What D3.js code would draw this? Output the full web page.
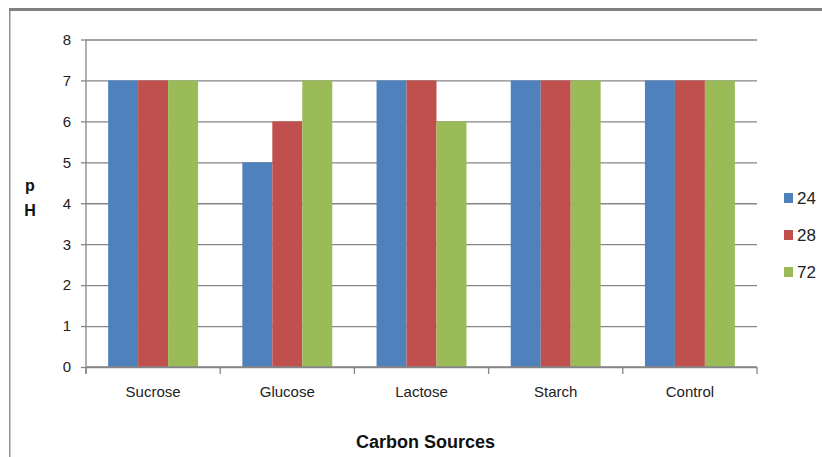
<!DOCTYPE html>
<html>
<head>
<meta charset="utf-8">
<script src="https://cdn.jsdelivr.net/npm/d3@7"></script>
<style>
  html, body { margin: 0; padding: 0; background: #fff; }
  svg { display: block; }
  text { font-family: "Liberation Sans", Arial, sans-serif; }
</style>
</head>
<body>
<svg id="chart" width="822" height="457"></svg>
<script>
// pH of cultures grown on different carbon sources, sampled at three times
const categories = ["Sucrose", "Glucose", "Lactose", "Starch", "Control"];
const seriesNames = ["24", "28", "72"];
const values24 = [7, 5, 7, 7, 7];
const values28 = [7, 6, 7, 7, 7];
const values72 = [7, 7, 6, 7, 7];
const yTicks = [0, 1, 2, 3, 4, 5, 6, 7, 8];
const colors = ["#4F81BD", "#C0504D", "#9BBB59"];

const seriesValues = [values24, values28, values72];
const rows = categories.map((c, i) => ({
  category: c,
  bars: seriesNames.map((s, j) => ({ series: s, value: seriesValues[j][i], color: colors[j] }))
}));

const svg = d3.select("#chart");
const grey = "#868686";

// outer frame
svg.append("line").attr("x1", 9).attr("x2", 822).attr("y1", 9.5).attr("y2", 9.5)
  .attr("stroke", "#808080").attr("stroke-width", 3);
svg.append("line").attr("x1", 9.8).attr("x2", 9.8).attr("y1", 8).attr("y2", 457)
  .attr("stroke", "#808080").attr("stroke-width", 1.3);

const plot = { left: 86, right: 757, top: 39.5, bottom: 367 };

const x0 = d3.scaleBand().domain(categories).range([plot.left, plot.right]).padding(0);
const groupW = x0.bandwidth() * 0.67;
const x1 = d3.scaleBand().domain(seriesNames)
  .range([(x0.bandwidth() - groupW) / 2, (x0.bandwidth() + groupW) / 2]).padding(0);
const y = d3.scaleLinear().domain([0, 8]).range([plot.bottom, plot.top]);

// horizontal gridlines with left tick marks and labels
const yAxis = d3.axisLeft(y).tickValues(yTicks).tickSize(5).tickPadding(10).tickFormat(d3.format("d"));
const gy = svg.append("g").attr("transform", `translate(${plot.left},0)`).call(yAxis);
gy.select(".domain").remove();
gy.selectAll(".tick line").attr("stroke", grey).attr("stroke-width", 1.3);
gy.selectAll(".tick text").attr("font-size", 15).attr("fill", "#222")
  .attr("font-family", "'Liberation Sans', Arial, sans-serif");
gy.selectAll(".tick").append("line")
  .attr("x1", 0).attr("x2", plot.right - plot.left)
  .attr("stroke", grey).attr("stroke-width", 1.3);

// bars
const groups = svg.append("g").selectAll("g").data(rows).join("g")
  .attr("transform", d => `translate(${x0(d.category)},0)`);
groups.selectAll("rect").data(d => d.bars).join("rect")
  .attr("x", d => x1(d.series))
  .attr("width", x1.bandwidth())
  .attr("y", d => y(d.value))
  .attr("height", d => y(0) - y(d.value))
  .attr("fill", d => d.color);

// vertical axis line
svg.append("line").attr("x1", plot.left).attr("x2", plot.left)
  .attr("y1", plot.top).attr("y2", plot.bottom + 7)
  .attr("stroke", grey).attr("stroke-width", 1.3);

// category axis with boundary ticks
svg.append("line").attr("x1", plot.left).attr("x2", plot.right)
  .attr("y1", plot.bottom).attr("y2", plot.bottom)
  .attr("stroke", grey).attr("stroke-width", 1.3);
const boundaries = categories.map(c => x0(c)).concat([x0(categories[categories.length - 1]) + x0.bandwidth()]);
svg.append("g").selectAll("line").data(boundaries).join("line")
  .attr("x1", d => d).attr("x2", d => d)
  .attr("y1", plot.bottom).attr("y2", plot.bottom + 7)
  .attr("stroke", grey).attr("stroke-width", 1.3);
svg.append("g").selectAll("text").data(categories).join("text")
  .attr("x", d => x0(d) + x0.bandwidth() / 2)
  .attr("y", 397)
  .attr("text-anchor", "middle")
  .attr("font-size", 15)
  .attr("fill", "#222")
  .text(d => d);

// axis titles
svg.append("text").attr("x", 425.5).attr("y", 448).attr("text-anchor", "middle")
  .attr("font-size", 18).attr("font-weight", "bold").attr("fill", "#111")
  .text("Carbon Sources");
const yTitle = svg.append("text").attr("text-anchor", "middle")
  .attr("font-size", 16).attr("font-weight", "bold").attr("fill", "#111");
yTitle.append("tspan").attr("x", 30).attr("y", 191).text("p");
yTitle.append("tspan").attr("x", 30).attr("y", 216).text("H");

// legend
const legend = svg.append("g").selectAll("g").data(seriesNames).join("g")
  .attr("transform", (d, i) => `translate(784,${193 + i * 37})`);
legend.append("rect").attr("width", 9).attr("height", 10).attr("fill", (d, i) => colors[i]);
legend.append("text").attr("x", 13).attr("y", 11).attr("font-size", 17).attr("fill", "#222").text(d => d);
</script>
</body>
</html>
